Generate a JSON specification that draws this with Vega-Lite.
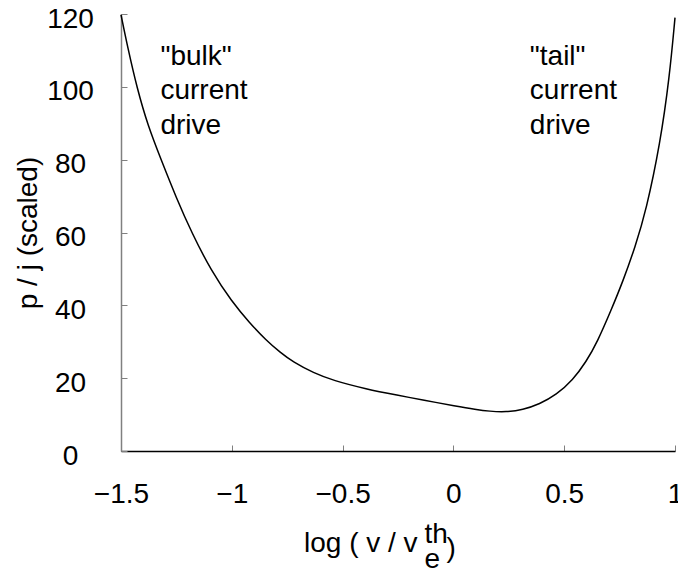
{
  "$schema": "https://vega.github.io/schema/vega-lite/v6.json",
  "width": 554,
  "height": 437,
  "autosize": {"type": "none"},
  "padding": {"left": 121, "top": 14, "right": 3, "bottom": 123},
  "config": {"view": {"stroke": null}, "font": "Liberation Sans", "axis": {"grid": false}},
  "datasets": {
    "curve": [
      {"logv": -1.5, "pj": 119.8},
      {"logv": -1.469, "pj": 110.6},
      {"logv": -1.427, "pj": 99.5},
      {"logv": -1.379, "pj": 89.4},
      {"logv": -1.319, "pj": 80},
      {"logv": -1.251, "pj": 69.6},
      {"logv": -1.18, "pj": 59.8},
      {"logv": -1.093, "pj": 49.5},
      {"logv": -1.0, "pj": 41},
      {"logv": -0.92, "pj": 35.2},
      {"logv": -0.845, "pj": 30.4},
      {"logv": -0.78, "pj": 27.0},
      {"logv": -0.725, "pj": 24.5},
      {"logv": -0.63, "pj": 21.4},
      {"logv": -0.544, "pj": 19.4},
      {"logv": -0.393, "pj": 17.0},
      {"logv": -0.25, "pj": 15.3},
      {"logv": -0.138, "pj": 14.0},
      {"logv": 0.013, "pj": 12.3},
      {"logv": 0.1, "pj": 11.4},
      {"logv": 0.163, "pj": 10.9},
      {"logv": 0.238, "pj": 10.7},
      {"logv": 0.313, "pj": 11.3},
      {"logv": 0.389, "pj": 12.9},
      {"logv": 0.464, "pj": 15.4},
      {"logv": 0.539, "pj": 19.5},
      {"logv": 0.599, "pj": 24.5},
      {"logv": 0.65, "pj": 30.0},
      {"logv": 0.712, "pj": 38.7},
      {"logv": 0.765, "pj": 46.6},
      {"logv": 0.82, "pj": 56.0},
      {"logv": 0.87, "pj": 66.1},
      {"logv": 0.933, "pj": 84.4},
      {"logv": 0.975, "pj": 102.6},
      {"logv": 1.0, "pj": 119}
    ],
    "notes": [
      {"logv": -1.322, "pj": 106, "label": "\"bulk\"\ncurrent\ndrive"},
      {"logv": 0.345, "pj": 106, "label": "\"tail\"\ncurrent\ndrive"},
      {"logv": -0.13, "pj": -25.35, "label": "th"},
      {"logv": -0.13, "pj": -32.2, "label": "e"},
      {"logv": -0.031, "pj": -29.2, "label": ")"}
    ]
  },
  "encoding": {
    "x": {
      "field": "logv",
      "type": "quantitative",
      "scale": {"domain": [-1.5, 1], "nice": false, "zero": false},
      "axis": {
        "values": [-1.5, -1, -0.5, 0, 0.5, 1],
        "format": "~g",
        "tickSize": -6,
        "tickColor": "#808080",
        "domainColor": "black",
        "domainWidth": 1.5,
        "labelFontSize": 28,
        "labelFont": "Liberation Sans",
        "labelColor": "black",
        "labelBaseline": "alphabetic",
        "labelPadding": 57,
        "labelFlush": false,
        "labelOverlap": false,
        "title": "log ( v / v",
        "titleFontSize": 28,
        "titleFont": "Liberation Sans",
        "titleFontWeight": "normal",
        "titleColor": "black",
        "titleAlign": "left",
        "titleBaseline": "alphabetic",
        "titleX": 182.5,
        "titleY": 100.7
      }
    },
    "y": {
      "field": "pj",
      "type": "quantitative",
      "scale": {"domain": [0, 120], "nice": false, "zero": false},
      "axis": {
        "values": [0, 20, 40, 60, 80, 100, 120],
        "tickSize": -6,
        "tickColor": "#808080",
        "domainColor": "#808080",
        "domainWidth": 1.5,
        "labelFontSize": 28,
        "labelFont": "Liberation Sans",
        "labelColor": "black",
        "labelAlign": "center",
        "labelBaseline": "alphabetic",
        "labelOffset": 13,
        "labelPadding": 57,
        "labelFlush": false,
        "labelOverlap": false,
        "title": "p / j (scaled)",
        "titleFontSize": 28,
        "titleFont": "Liberation Sans",
        "titleFontWeight": "normal",
        "titleColor": "black",
        "titleAngle": -90,
        "titleAlign": "center",
        "titleBaseline": "middle",
        "titleX": -93,
        "titleY": 218.5
      }
    }
  },
  "layer": [
    {
      "data": {"name": "curve"},
      "mark": {"type": "line", "color": "black", "strokeWidth": 1.5, "interpolate": "basis"}
    },
    {
      "data": {"name": "notes"},
      "mark": {"type": "text", "align": "left", "baseline": "alphabetic", "fontSize": 28, "lineBreak": "\n", "lineHeight": 34.5, "color": "black", "font": "Liberation Sans"},
      "encoding": {"text": {"field": "label", "type": "nominal"}}
    }
  ]
}
